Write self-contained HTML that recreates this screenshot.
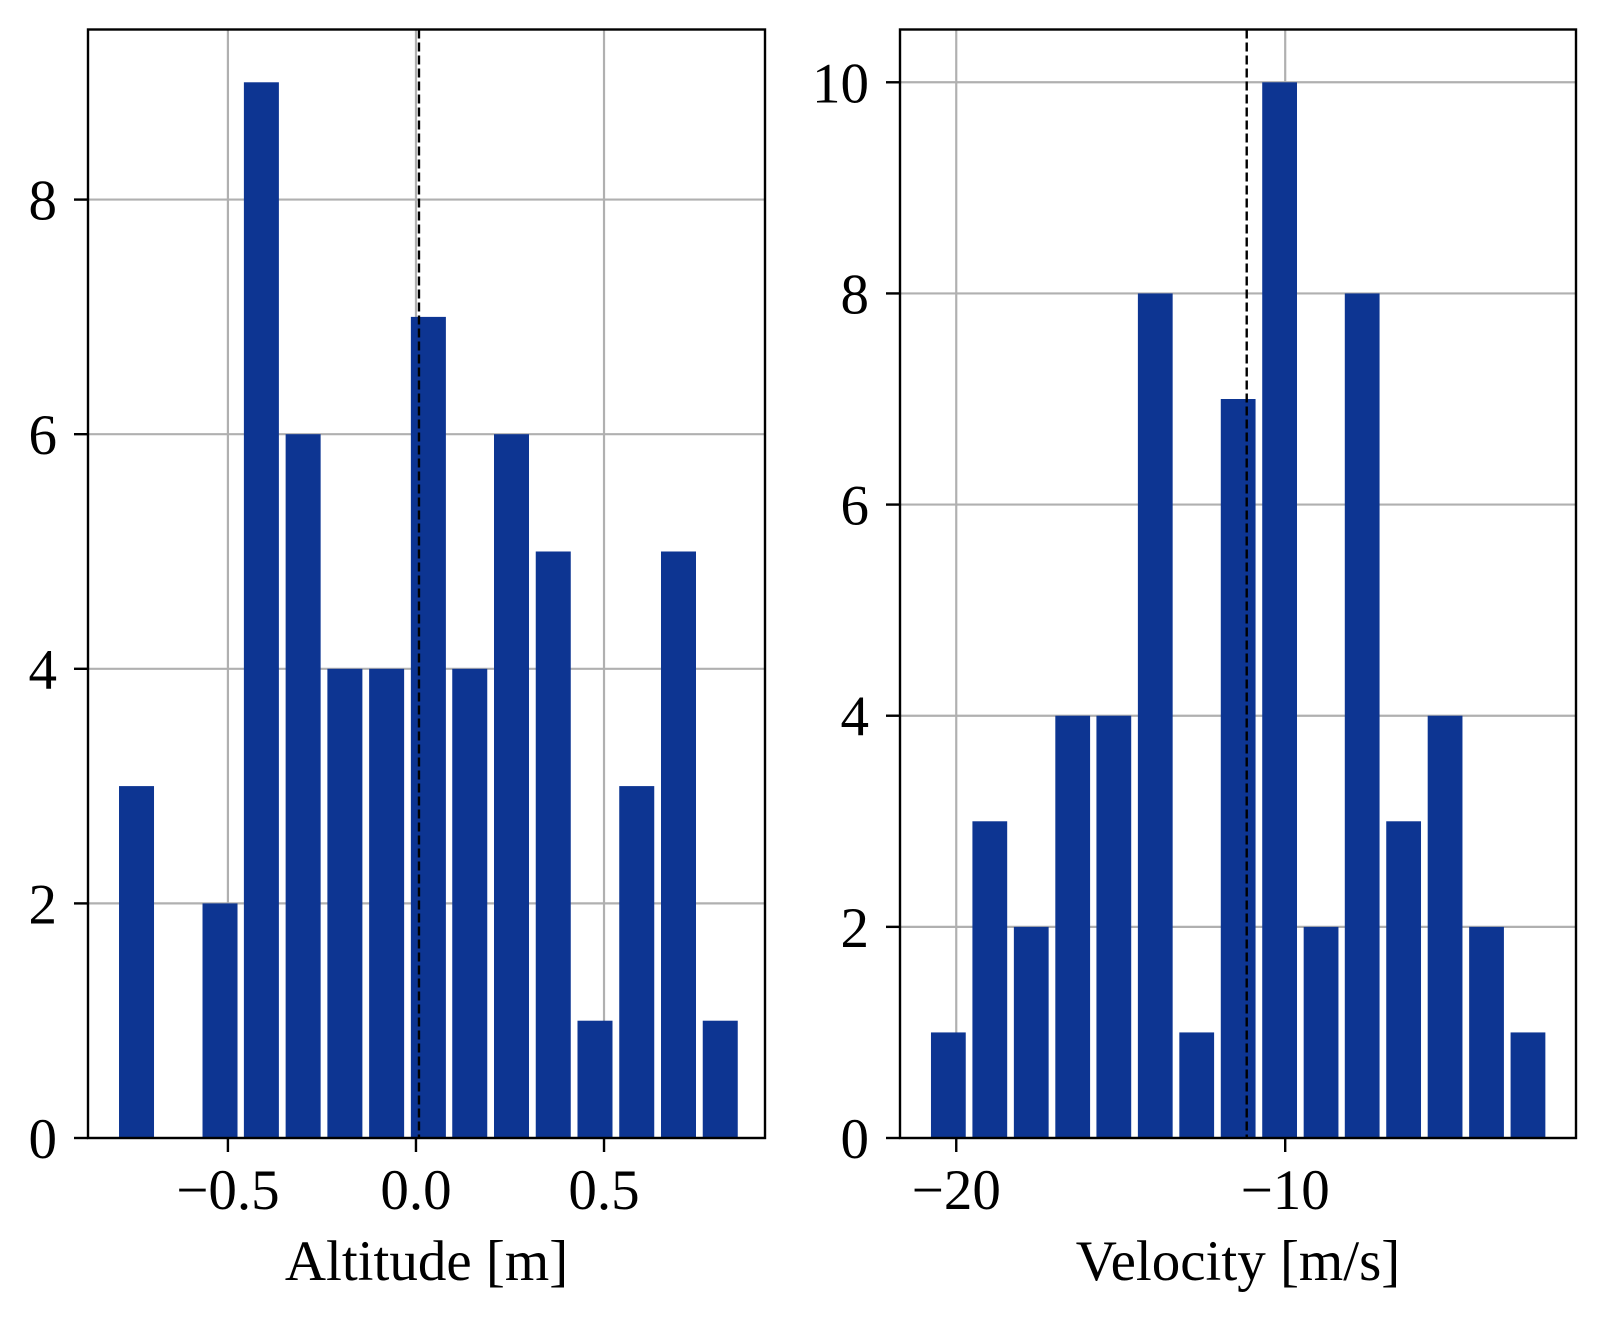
<!DOCTYPE html>
<html><head><meta charset="utf-8"><style>
body{margin:0;background:#fff}
svg text{font-family:"Liberation Serif",serif;fill:#000}
</style></head><body>
<svg id="fig" width="1606" height="1322" xmlns="http://www.w3.org/2000/svg"></svg>
<script>
const altCenters=[-0.743,-0.632,-0.521,-0.411,-0.300,-0.189,-0.078,0.033,0.143,0.254,0.365,0.476,0.587,0.698,0.809];
const altCounts=[3,0,2,9,6,4,4,7,4,6,5,1,3,5,1];
const altTicks=[-0.5,0.0,0.5];
const altTickLabels=["\u22120.5","0.0","0.5"];
const altYTicks=[0,2,4,6,8];
const altMean=[0.008];
const velCenters=[-20.24,-18.98,-17.72,-16.46,-15.21,-13.95,-12.69,-11.43,-10.17,-8.91,-7.66,-6.40,-5.14,-3.88,-2.62];
const velCounts=[1,3,2,4,4,8,1,7,10,2,8,3,4,2,1];
const velTicks=[-20,-10];
const velTickLabels=["\u221220","\u221210"];
const velYTicks=[0,2,4,6,8,10];
const velMean=[-11.17];

const NS="http://www.w3.org/2000/svg";
const svg=document.getElementById('fig');
function el(tag,attrs,parent){const e=document.createElementNS(NS,tag);for(const k in attrs)e.setAttribute(k,attrs[k]);(parent||svg).appendChild(e);return e;}

function panel(o){
  const g=el('g',{});
  
  
  const sx=v=>o.x0+(v-o.xmin)/(o.xmax-o.xmin)*(o.x1-o.x0);
  const sy=v=>o.y1-(v-o.ymin)/(o.ymax-o.ymin)*(o.y1-o.y0);
  o.xt.forEach(t=>{const l=el('line',{x1:sx(t),x2:sx(t),y1:o.y0,y2:o.y1,stroke:'#b0b0b0','stroke-width':2.2},g);
    });
  o.yt.forEach(t=>{const l=el('line',{x1:o.x0,x2:o.x1,y1:sy(t),y2:sy(t),stroke:'#b0b0b0','stroke-width':2.2},g);
    });
  const bw=o.binw*0.84;
  o.centers.forEach((c,i)=>{const v=o.counts[i];if(!v)return;
    const r=el('rect',{x:sx(c-bw/2),y:sy(v),width:sx(c+bw/2)-sx(c-bw/2),height:sy(0)-sy(v),fill:'#0d3592'},g);
    });
  o.mean.forEach(m=>{const l=el('line',{x1:sx(m),x2:sx(m),y1:o.y0,y2:o.y1,stroke:'#000','stroke-width':2.4,'stroke-dasharray':'9,4'},g);
    });
  const f=el('rect',{x:o.x0,y:o.y0,width:o.x1-o.x0,height:o.y1-o.y0,fill:'none',stroke:'#000','stroke-width':2.4},g);
  
  o.xt.forEach((t,i)=>{el('line',{x1:sx(t),x2:sx(t),y1:o.y1,y2:o.y1+14,stroke:'#000','stroke-width':2.4},g);
    const tx=el('text',{x:sx(t),y:1209,'text-anchor':'middle','font-size':57},g);tx.textContent=o.xl[i];
    });
  o.yt.forEach(t=>{el('line',{x1:o.x0-14,x2:o.x0,y1:sy(t),y2:sy(t),stroke:'#000','stroke-width':2.4},g);
    const tx=el('text',{x:o.x0-31,y:sy(t)+20,'text-anchor':'end','font-size':57},g);tx.textContent=String(t);
    });
  const lab=el('text',{x:(o.x0+o.x1)/2,y:1280,'text-anchor':'middle','font-size':57},g);lab.textContent=o.label;
  
}
panel({name:'altitude-histogram',x0:88,x1:765,y0:29.5,y1:1138,xmin:-0.872,xmax:0.928,ymin:0,ymax:9.45,
  centers:altCenters,counts:altCounts,binw:0.1108,xt:altTicks,xl:altTickLabels,yt:altYTicks,mean:altMean,label:'Altitude [m]'});
panel({name:'velocity-histogram',x0:900,x1:1576,y0:29.5,y1:1138,xmin:-21.71,xmax:-1.16,ymin:0,ymax:10.5,
  centers:velCenters,counts:velCounts,binw:1.2586,xt:velTicks,xl:velTickLabels,yt:velYTicks,mean:velMean,label:'Velocity [m/s]'});
</script>
</body></html>
